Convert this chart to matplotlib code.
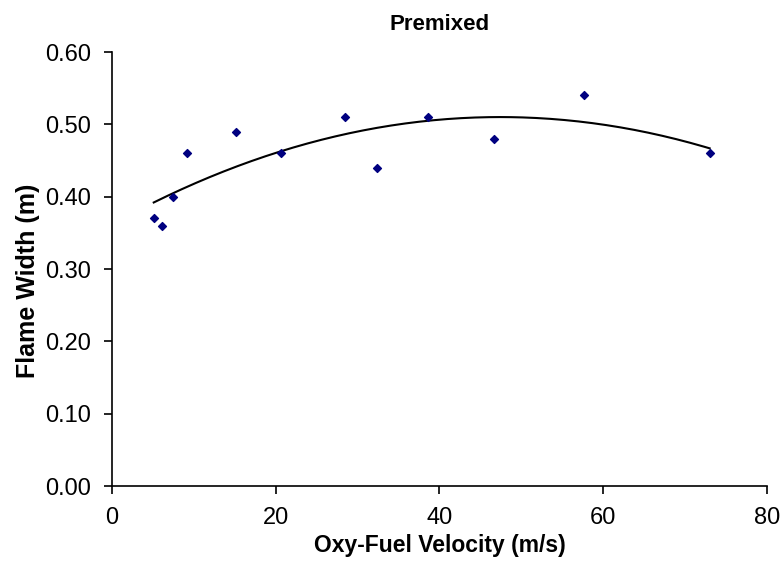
import numpy as np
import matplotlib
matplotlib.use("Agg")
import matplotlib.pyplot as plt

plt.rcParams['font.family'] = ['Liberation Sans', 'DejaVu Sans']

# measured points
velocity = [5.1, 6.1, 7.4, 9.2, 15.2, 20.7, 28.5, 32.4, 38.6, 46.7, 57.7, 73.0]
flame_width = [0.37, 0.36, 0.40, 0.46, 0.49, 0.46, 0.51, 0.44, 0.51, 0.48, 0.54, 0.46]

x_ticks = [0, 20, 40, 60, 80]
y_ticks = [0.0, 0.1, 0.2, 0.3, 0.4, 0.5, 0.6]

fig = plt.figure(figsize=(7.82, 5.65), dpi=100)
ax = fig.add_axes([0.1432, 0.1398, 0.8376, 0.768])

ax.scatter(velocity, flame_width, marker='D', s=16, color='#000080', zorder=3)

# 2nd order trendline like excel
coef = np.polyfit(velocity, flame_width, 2)
xs = np.linspace(min(velocity), max(velocity), 200)
ax.plot(xs, np.polyval(coef, xs), color='black', lw=1.5)

ax.set_xlim(0, 80)
ax.set_ylim(0, 0.6)
ax.set_xticks(x_ticks)
ax.set_yticks(y_ticks)
ax.set_yticklabels([f"{v:.2f}" for v in y_ticks])
ax.tick_params(labelsize=17, length=6, width=1.2, direction='out')
ax.tick_params(axis='x', pad=9)
ax.tick_params(axis='y', pad=9)

for s in ['top', 'right']:
    ax.spines[s].set_visible(False)
for s in ['left', 'bottom']:
    ax.spines[s].set_linewidth(1.2)

ax.set_xlabel('Oxy-Fuel Velocity (m/s)', fontsize=16.5, fontweight='bold', labelpad=4)
ax.set_ylabel('Flame Width (m)', fontsize=18, fontweight='bold')
ax.yaxis.set_label_coords(-0.11, 0.472)
ax.set_title('Premixed', fontsize=16, fontweight='bold', pad=16)

fig.savefig('out.png', dpi=100)
